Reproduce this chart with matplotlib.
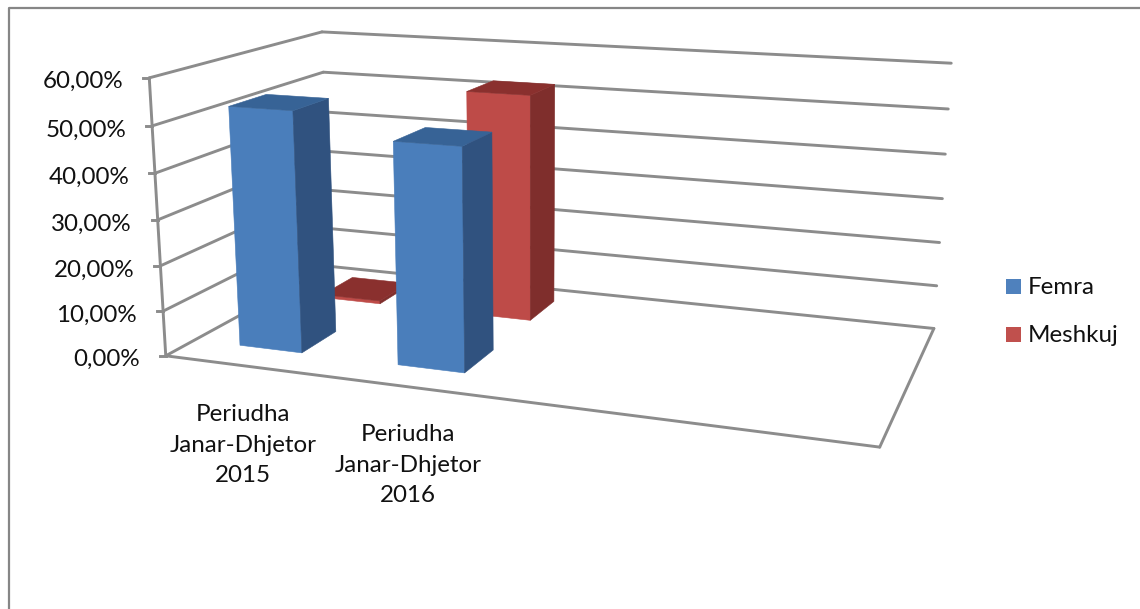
import numpy as np
import matplotlib
matplotlib.use('Agg')
import matplotlib.pyplot as plt
from matplotlib.patches import Polygon, Rectangle

categories = ['Periudha\nJanar-Dhjetor\n2015', 'Periudha\nJanar-Dhjetor\n2016']
series_names = ['Femra', 'Meshkuj']
femra = [52.8, 47.9]
meshkuj = [0.7, 52.0]
value_ticks = [0, 10, 20, 30, 40, 50, 60]
tick_labels = ['0,00%', '10,00%', '20,00%', '30,00%', '40,00%', '50,00%', '60,00%']

N_SLOTS = 4
GRID = '#8c8c8c'
FONT_SIZE = 17.4
plt.rcParams['font.family'] = ['Lato', 'DejaVu Sans']

# camera: fit a 3x4 projection from the corners and ends of the gridlines
world = []
pix = []
left_wall = [(167, 355), (163, 310), (160, 266), (157, 220), (155, 173), (152, 126), (149, 79)]
right_wall = [(933, 328), (937, 286), (940, 242), (943, 198), (945, 154), (948, 109), (951, 64)]
for v, l, r in zip(value_ticks, left_wall, right_wall):
    world += [(0, v, 0), (N_SLOTS, v, 1)]
    pix += [l, r]
world += [(0, 60, 1), (0, 50, 1), (0, 0, 1), (N_SLOTS, 0, 0)]
pix += [(323, 31), (323, 72), (329, 268), (880, 448)]

rows = []
rhs = []
for (x, y, z), (u, v) in zip(world, pix):
    rows.append([x, y, z, 1, 0, 0, 0, 0, -u*x, -u*y, -u*z])
    rhs.append(u)
    rows.append([0, 0, 0, 0, x, y, z, 1, -v*x, -v*y, -v*z])
    rhs.append(v)
p = np.linalg.lstsq(np.array(rows, float), np.array(rhs, float), rcond=None)[0]
P = np.append(p, 1).reshape(3, 4)


def project(x, y, z):
    q = P @ np.array([x, y, z, 1.0])
    return q[0]/q[2], q[1]/q[2]


def line3d(ax, a, b):
    pa, pb = project(*a), project(*b)
    ax.plot([pa[0], pb[0]], [pa[1], pb[1]], color=GRID, lw=2.1, solid_capstyle='round')


def bar3d(ax, x0, x1, z0, z1, h, front, side, top, zorder):
    faces = [
        ([(x0, 0, z0), (x1, 0, z0), (x1, h, z0), (x0, h, z0)], front),
        ([(x1, 0, z0), (x1, 0, z1), (x1, h, z1), (x1, h, z0)], side),
        ([(x0, h, z0), (x1, h, z0), (x1, h, z1), (x0, h, z1)], top),
    ]
    for corners, color in faces:
        ax.add_patch(Polygon([project(*c) for c in corners], closed=True, facecolor=color,
                             edgecolor=color, lw=0.4, zorder=zorder))


fig = plt.figure(figsize=(11.4, 6.09), dpi=100)
ax = fig.add_axes([0, 0, 1, 1])
ax.set_xlim(0, 1140)
ax.set_ylim(609, 0)
ax.axis('off')

# chart area border, only top and left show
ax.plot([8.5, 8.5, 1140], [609, 8, 8], color='#868686', lw=1.6)

# walls and floor
for v, label in zip(value_ticks, tick_labels):
    line3d(ax, (0, v, 0), (0, v, 1))
    if v > 0:
        line3d(ax, (0, v, 1), (N_SLOTS, v, 1))
    tx, ty = project(0, v, 0)
    ax.plot([tx - 6, tx], [ty, ty], color=GRID, lw=2.1)
    ax.text(tx - 26, ty + 4, label, ha='right', va='center', fontsize=FONT_SIZE, color='#111111')
line3d(ax, (0, 0, 0), (0, 60, 0))
line3d(ax, (0, 0, 1), (N_SLOTS, 0, 1))
line3d(ax, (N_SLOTS, 0, 1), (N_SLOTS, 0, 0))
line3d(ax, (N_SLOTS, 0, 0), (0, 0, 0))

# back row first so the front row covers it
for i, h in enumerate(meshkuj):
    bar3d(ax, i + 0.297, i + 0.697, 0.665, 0.875, h, '#BE4B48', '#7F2E2C', '#8A302E', 3)
for i, h in enumerate(femra):
    bar3d(ax, i + 0.297, i + 0.697, 0.155, 0.365, h, '#4A7EBB', '#30527F', '#376396', 4)

label_pos = [(243, 445), (408, 465)]
for (lx, ly), cat in zip(label_pos, categories):
    ax.text(lx, ly, cat, ha='center', va='center', fontsize=FONT_SIZE, color='#111111', linespacing=1.56)

for name, color, ly in zip(series_names, ['#4F81BD', '#C0504D'], [286.5, 334.5]):
    ax.add_patch(Rectangle((1006, ly - 7.5), 15, 15, facecolor=color, edgecolor='none'))
    ax.text(1028, ly + 1, name, ha='left', va='center', fontsize=FONT_SIZE, color='#111111')

fig.savefig('out.png', dpi=100)
